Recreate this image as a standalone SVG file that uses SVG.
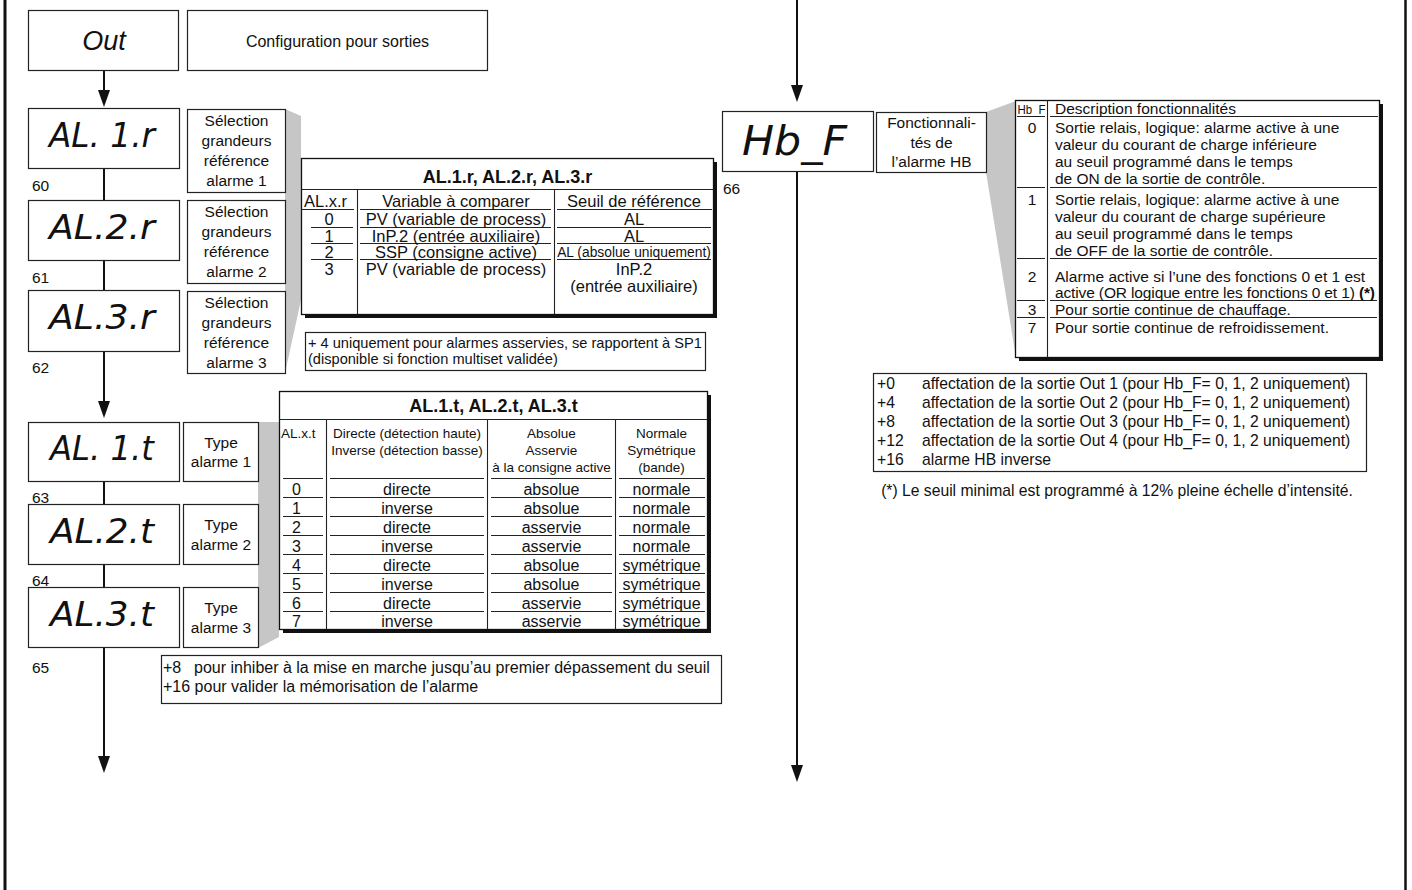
<svg xmlns="http://www.w3.org/2000/svg" width="1412" height="890" viewBox="0 0 1412 890">
<defs>
<style>
.f{font-family:"Liberation Sans",Arial,Helvetica,sans-serif;fill:#111}
.c{text-anchor:middle}
.bd{font-weight:bold}
.b{fill:#fff;stroke:#222;stroke-width:1.2}
.tb{fill:#fff;stroke:#111;stroke-width:1.3}
.sh{fill:#111}
.gr{fill:#c6c6c6}
.seg{font-family:"DejaVu Sans","Liberation Sans",sans-serif;font-style:italic;fill:#111}
.ln{stroke:#222;stroke-width:1.1;fill:none}
.wire{stroke:#111;stroke-width:2;fill:none}
.frame{stroke:#111;fill:none}
.lbl{font-size:15.5px}
.num{font-size:15.5px}
.tr{font-size:16.5px}
.tt{font-size:16px}
.th{font-size:13.5px}
.hb{font-size:15.5px}
.nt{font-size:15.7px}
</style>
<marker id="ah" viewBox="0 0 17 12" markerWidth="17" markerHeight="12" refX="13" refY="6" orient="auto" markerUnits="userSpaceOnUse"><path d="M0,0 L17,6 L0,12 z" fill="#111"/></marker>
</defs>
<rect x="0" y="0" width="1412" height="890" fill="#fff"/>
<g id="frame">
<line class="frame" x1="5" y1="0" x2="5" y2="890" stroke-width="3"/>
<line class="frame" x1="1405.5" y1="0" x2="1405.5" y2="890" stroke-width="2.5"/>
</g>
<g id="callout-shading">
<polygon class="gr" points="285,109 301,116 301,300 285,373"/>
<polygon class="gr" points="258,422 279,422 279,637 258,648"/>
<polygon class="gr" points="986,112 1016,101 1016,358 986,172"/>
</g>
<g id="connectors">
<line class="wire" x1="104" y1="71" x2="104" y2="103" marker-end="url(#ah)"/>
<line class="wire" x1="104" y1="168" x2="104" y2="200"/>
<line class="wire" x1="104" y1="260" x2="104" y2="290"/>
<line class="wire" x1="104" y1="351" x2="104" y2="414" marker-end="url(#ah)"/>
<line class="wire" x1="104" y1="481" x2="104" y2="504"/>
<line class="wire" x1="104" y1="564" x2="104" y2="587"/>
<line class="wire" x1="104" y1="647" x2="104" y2="769" marker-end="url(#ah)"/>
<line class="wire" x1="797" y1="0" x2="797" y2="98" marker-end="url(#ah)"/>
<line class="wire" x1="797" y1="171" x2="797" y2="778" marker-end="url(#ah)"/>
</g>
<g id="out">
<rect class="b" x="28.5" y="10.5" width="150" height="60"/>
<text class="f c" x="104" y="50" font-size="27" font-style="italic">Out</text>
</g>
<g id="config">
<rect class="b" x="187.5" y="10.5" width="300" height="60"/>
<text class="f c" x="337.5" y="46.5" font-size="16">Configuration pour sorties</text>
</g>
<g id="al1r">
<rect class="b" x="28.5" y="108.5" width="151" height="60"/>
<text class="seg" x="49" y="147" font-size="33" textLength="106" lengthAdjust="spacingAndGlyphs">AL. 1.r</text>
<text class="f num" x="32" y="191">60</text>
</g>
<g id="sel1">
<rect class="b" x="187.5" y="109.5" width="98" height="83"/>
<text class="f c lbl" x="236.5" y="126">Sélection</text>
<text class="f c lbl" x="236.5" y="146">grandeurs</text>
<text class="f c lbl" x="236.5" y="166">référence</text>
<text class="f c lbl" x="236.5" y="186">alarme 1</text>
</g>
<g id="al2r">
<rect class="b" x="28.5" y="200.5" width="151" height="60"/>
<text class="seg" x="49" y="239" font-size="33" textLength="106" lengthAdjust="spacingAndGlyphs">AL.2.r</text>
<text class="f num" x="32" y="283">61</text>
</g>
<g id="sel2">
<rect class="b" x="187.5" y="200.5" width="98" height="83"/>
<text class="f c lbl" x="236.5" y="217">Sélection</text>
<text class="f c lbl" x="236.5" y="237">grandeurs</text>
<text class="f c lbl" x="236.5" y="257">référence</text>
<text class="f c lbl" x="236.5" y="277">alarme 2</text>
</g>
<g id="al3r">
<rect class="b" x="28.5" y="290.5" width="151" height="61"/>
<text class="seg" x="49" y="329" font-size="33" textLength="106" lengthAdjust="spacingAndGlyphs">AL.3.r</text>
<text class="f num" x="32" y="373">62</text>
</g>
<g id="sel3">
<rect class="b" x="187.5" y="291.5" width="98" height="82"/>
<text class="f c lbl" x="236.5" y="308">Sélection</text>
<text class="f c lbl" x="236.5" y="328">grandeurs</text>
<text class="f c lbl" x="236.5" y="348">référence</text>
<text class="f c lbl" x="236.5" y="368">alarme 3</text>
</g>
<g id="tbl_r">
<rect class="sh" x="305" y="162" width="412" height="156"/>
<rect class="tb" x="301.5" y="158.5" width="412" height="156"/>
<line class="ln" x1="301.5" y1="189.5" x2="713.5" y2="189.5"/>
<line class="ln" x1="357.5" y1="189.5" x2="357.5" y2="314.5"/>
<line class="ln" x1="554.5" y1="189.5" x2="554.5" y2="314.5"/>
<path class="ln" d="M302 209.5H354M360 209.5H551M557 209.5H712M311 227.5H353M360 227.5H551M557 227.5H711M311 243.5H353M360 243.5H551M557 243.5H711M311 259.5H353M360 259.5H551M557 259.5H711"/>
<text class="f c bd" x="507.5" y="183" font-size="18">AL.1.r, AL.2.r, AL.3.r</text>
<text class="f tr" x="304" y="206.5">AL.x.r</text>
<text class="f c tr" x="456" y="206.5">Variable à comparer</text>
<text class="f c tr" x="634" y="206.5">Seuil de référence</text>
<text class="f c tr" x="329" y="225">0</text>
<text class="f c tr" x="456" y="225">PV (variable de process)</text>
<text class="f c tr" x="634" y="225">AL</text>
<text class="f c tr" x="329" y="241.5">1</text>
<text class="f c tr" x="456" y="241.5">InP.2 (entrée auxiliaire)</text>
<text class="f c tr" x="634" y="241.5">AL</text>
<text class="f c tr" x="329" y="257.5">2</text>
<text class="f c tr" x="456" y="257.5">SSP (consigne active)</text>
<text class="f c" x="634" y="257" font-size="13.8">AL (absolue uniquement)</text>
<text class="f c tr" x="329" y="275">3</text>
<text class="f c tr" x="456" y="275">PV (variable de process)</text>
<text class="f c tr" x="634" y="275">InP.2</text>
<text class="f c tr" x="634" y="292">(entrée auxiliaire)</text>
</g>
<g id="note_r">
<rect class="b" x="305.5" y="332.5" width="400" height="38"/>
<text class="f" x="308" y="348" font-size="14.6">+ 4 uniquement pour alarmes asservies, se rapportent à SP1</text>
<text class="f" x="308" y="364" font-size="14.6">(disponible si fonction multiset validée)</text>
</g>
<g id="al1t">
<rect class="b" x="28.5" y="422.5" width="151" height="59"/>
<text class="seg" x="50" y="460" font-size="33" textLength="104" lengthAdjust="spacingAndGlyphs">AL. 1.t</text>
<text class="f num" x="32" y="503">63</text>
</g>
<g id="type1">
<rect class="b" x="183.5" y="422.5" width="75" height="59"/>
<text class="f c lbl" x="221" y="447.5">Type</text>
<text class="f c lbl" x="221" y="467">alarme 1</text>
</g>
<g id="al2t">
<rect class="b" x="28.5" y="504.5" width="151" height="60"/>
<text class="seg" x="50" y="542.5" font-size="33" textLength="104" lengthAdjust="spacingAndGlyphs">AL.2.t</text>
<text class="f num" x="32" y="585.5">64</text>
</g>
<g id="type2">
<rect class="b" x="183.5" y="504.5" width="75" height="60"/>
<text class="f c lbl" x="221" y="530">Type</text>
<text class="f c lbl" x="221" y="549.5">alarme 2</text>
</g>
<g id="al3t">
<rect class="b" x="28.5" y="587.5" width="151" height="60"/>
<text class="seg" x="50" y="625.5" font-size="33" textLength="104" lengthAdjust="spacingAndGlyphs">AL.3.t</text>
<text class="f num" x="32" y="672.5">65</text>
</g>
<g id="type3">
<rect class="b" x="183.5" y="587.5" width="75" height="60"/>
<text class="f c lbl" x="221" y="613">Type</text>
<text class="f c lbl" x="221" y="632.5">alarme 3</text>
</g>
<g id="tbl_t">
<rect class="sh" x="283" y="395" width="428" height="238"/>
<rect class="tb" x="279.5" y="391.5" width="428" height="238"/>
<line class="ln" x1="279.5" y1="419.5" x2="707.5" y2="419.5"/>
<line class="ln" x1="326.5" y1="419.5" x2="326.5" y2="629.5"/>
<line class="ln" x1="487.5" y1="419.5" x2="487.5" y2="629.5"/>
<line class="ln" x1="615.5" y1="419.5" x2="615.5" y2="629.5"/>
<path class="ln" d="M283 478.5H323M330 478.5H484M491 478.5H612M619 478.5H705M283 497.5H323M330 497.5H484M491 497.5H612M619 497.5H705M283 516.5H323M330 516.5H484M491 516.5H612M619 516.5H705M283 535.5H323M330 535.5H484M491 535.5H612M619 535.5H705M283 554.5H323M330 554.5H484M491 554.5H612M619 554.5H705M283 573.5H323M330 573.5H484M491 573.5H612M619 573.5H705M283 592.5H323M330 592.5H484M491 592.5H612M619 592.5H705M283 611.5H323M330 611.5H484M491 611.5H612M619 611.5H705"/>
<text class="f c bd" x="493.5" y="411.5" font-size="18">AL.1.t, AL.2.t, AL.3.t</text>
<text class="f th" x="281" y="438">AL.x.t</text>
<text class="f c th" x="407" y="438">Directe (détection haute)</text>
<text class="f c th" x="407" y="455">Inverse (détection basse)</text>
<text class="f c th" x="551.5" y="438">Absolue</text>
<text class="f c th" x="551.5" y="455">Asservie</text>
<text class="f c th" x="551.5" y="471.5">à la consigne active</text>
<text class="f c th" x="661.5" y="438">Normale</text>
<text class="f c th" x="661.5" y="455">Symétrique</text>
<text class="f c th" x="661.5" y="471.5">(bande)</text>
<text class="f tt" x="292" y="495">0</text><text class="f c tt" x="407" y="495">directe</text><text class="f c tt" x="551.5" y="495">absolue</text><text class="f c tt" x="661.5" y="495">normale</text>
<text class="f tt" x="292" y="514">1</text><text class="f c tt" x="407" y="514">inverse</text><text class="f c tt" x="551.5" y="514">absolue</text><text class="f c tt" x="661.5" y="514">normale</text>
<text class="f tt" x="292" y="533">2</text><text class="f c tt" x="407" y="533">directe</text><text class="f c tt" x="551.5" y="533">asservie</text><text class="f c tt" x="661.5" y="533">normale</text>
<text class="f tt" x="292" y="552">3</text><text class="f c tt" x="407" y="552">inverse</text><text class="f c tt" x="551.5" y="552">asservie</text><text class="f c tt" x="661.5" y="552">normale</text>
<text class="f tt" x="292" y="571">4</text><text class="f c tt" x="407" y="571">directe</text><text class="f c tt" x="551.5" y="571">absolue</text><text class="f c tt" x="661.5" y="571">symétrique</text>
<text class="f tt" x="292" y="590">5</text><text class="f c tt" x="407" y="590">inverse</text><text class="f c tt" x="551.5" y="590">absolue</text><text class="f c tt" x="661.5" y="590">symétrique</text>
<text class="f tt" x="292" y="609">6</text><text class="f c tt" x="407" y="609">directe</text><text class="f c tt" x="551.5" y="609">asservie</text><text class="f c tt" x="661.5" y="609">symétrique</text>
<text class="f tt" x="292" y="626.5">7</text><text class="f c tt" x="407" y="626.5">inverse</text><text class="f c tt" x="551.5" y="626.5">asservie</text><text class="f c tt" x="661.5" y="626.5">symétrique</text>
</g>
<g id="note_t">
<rect class="b" x="161.5" y="655.5" width="560" height="48"/>
<text class="f" y="672.5" font-size="16"><tspan x="163">+8</tspan><tspan x="194">pour inhiber à la mise en marche jusqu’au premier dépassement du seuil</tspan></text>
<text class="f" x="163" y="691.5" font-size="16">+16 pour valider la mémorisation de l’alarme</text>
</g>
<g id="hbf">
<rect class="b" x="722.5" y="111.5" width="151" height="60"/>
<text class="seg" x="742" y="155" font-size="40" textLength="105" lengthAdjust="spacingAndGlyphs">Hb_F</text>
<text class="f num" x="723" y="193.5">66</text>
</g>
<g id="fonct">
<rect class="b" x="876.5" y="112.5" width="110" height="60"/>
<text class="f c lbl" x="931.5" y="127.5">Fonctionnali-</text>
<text class="f c lbl" x="931.5" y="147.5">tés de</text>
<text class="f c lbl" x="931.5" y="167">l’alarme HB</text>
</g>
<g id="tbl_hb">
<rect class="sh" x="1019" y="104" width="364" height="257"/>
<rect class="tb" x="1015.5" y="100.5" width="364" height="257"/>
<line class="ln" x1="1047.5" y1="100.5" x2="1047.5" y2="357.5"/>
<path class="ln" d="M1017 116.5H1045M1050 116.5H1378M1017 187.5H1045M1050 187.5H1377M1017 258.5H1045M1050 258.5H1377M1017 300.5H1045M1050 300.5H1377M1017 317.5H1045M1050 317.5H1377"/>
<text class="f" x="1017.5" y="113.5" font-size="13.5" textLength="28" lengthAdjust="spacingAndGlyphs">Hb_F</text>
<text class="f hb" x="1055" y="113.5">Description fonctionnalités</text>
<text class="f c hb" x="1032" y="133">0</text>
<text class="f hb" x="1055" y="133">Sortie relais, logique: alarme active à une</text>
<text class="f hb" x="1055" y="150">valeur du courant de charge inférieure</text>
<text class="f hb" x="1055" y="167">au seuil programmé dans le temps</text>
<text class="f hb" x="1055" y="184">de ON de la sortie de contrôle.</text>
<text class="f c hb" x="1032" y="205">1</text>
<text class="f hb" x="1055" y="205">Sortie relais, logique: alarme active à une</text>
<text class="f hb" x="1055" y="222">valeur du courant de charge supérieure</text>
<text class="f hb" x="1055" y="239">au seuil programmé dans le temps</text>
<text class="f hb" x="1055" y="256">de OFF de la sortie de contrôle.</text>
<text class="f c hb" x="1032" y="281.5">2</text>
<text class="f hb" x="1055" y="281.5">Alarme active si l’une des fonctions 0 et 1 est</text>
<text class="f hb" x="1055" y="298" textLength="320" lengthAdjust="spacing">active (OR logique entre les fonctions 0 et 1) <tspan class="bd">(*)</tspan></text>
<text class="f c hb" x="1032" y="314.5">3</text>
<text class="f hb" x="1055" y="314.5">Pour sortie continue de chauffage.</text>
<text class="f c hb" x="1032" y="333">7</text>
<text class="f hb" x="1055" y="333">Pour sortie continue de refroidissement.</text>
</g>
<g id="note_hb">
<rect class="b" x="873.5" y="373.5" width="493" height="98"/>
<text class="f nt" x="877" y="389">+0</text><text class="f nt" x="922" y="389">affectation de la sortie Out 1 (pour Hb_F= 0, 1, 2 uniquement)</text>
<text class="f nt" x="877" y="408">+4</text><text class="f nt" x="922" y="408">affectation de la sortie Out 2 (pour Hb_F= 0, 1, 2 uniquement)</text>
<text class="f nt" x="877" y="427">+8</text><text class="f nt" x="922" y="427">affectation de la sortie Out 3 (pour Hb_F= 0, 1, 2 uniquement)</text>
<text class="f nt" x="877" y="446">+12</text><text class="f nt" x="922" y="446">affectation de la sortie Out 4 (pour Hb_F= 0, 1, 2 uniquement)</text>
<text class="f nt" x="877" y="465">+16</text><text class="f nt" x="922" y="465">alarme HB inverse</text>
</g>
<g id="note_star">
<text class="f c nt" x="1117" y="496">(*) Le seuil minimal est programmé à 12% pleine échelle d’intensité.</text>
</g>
</svg>
